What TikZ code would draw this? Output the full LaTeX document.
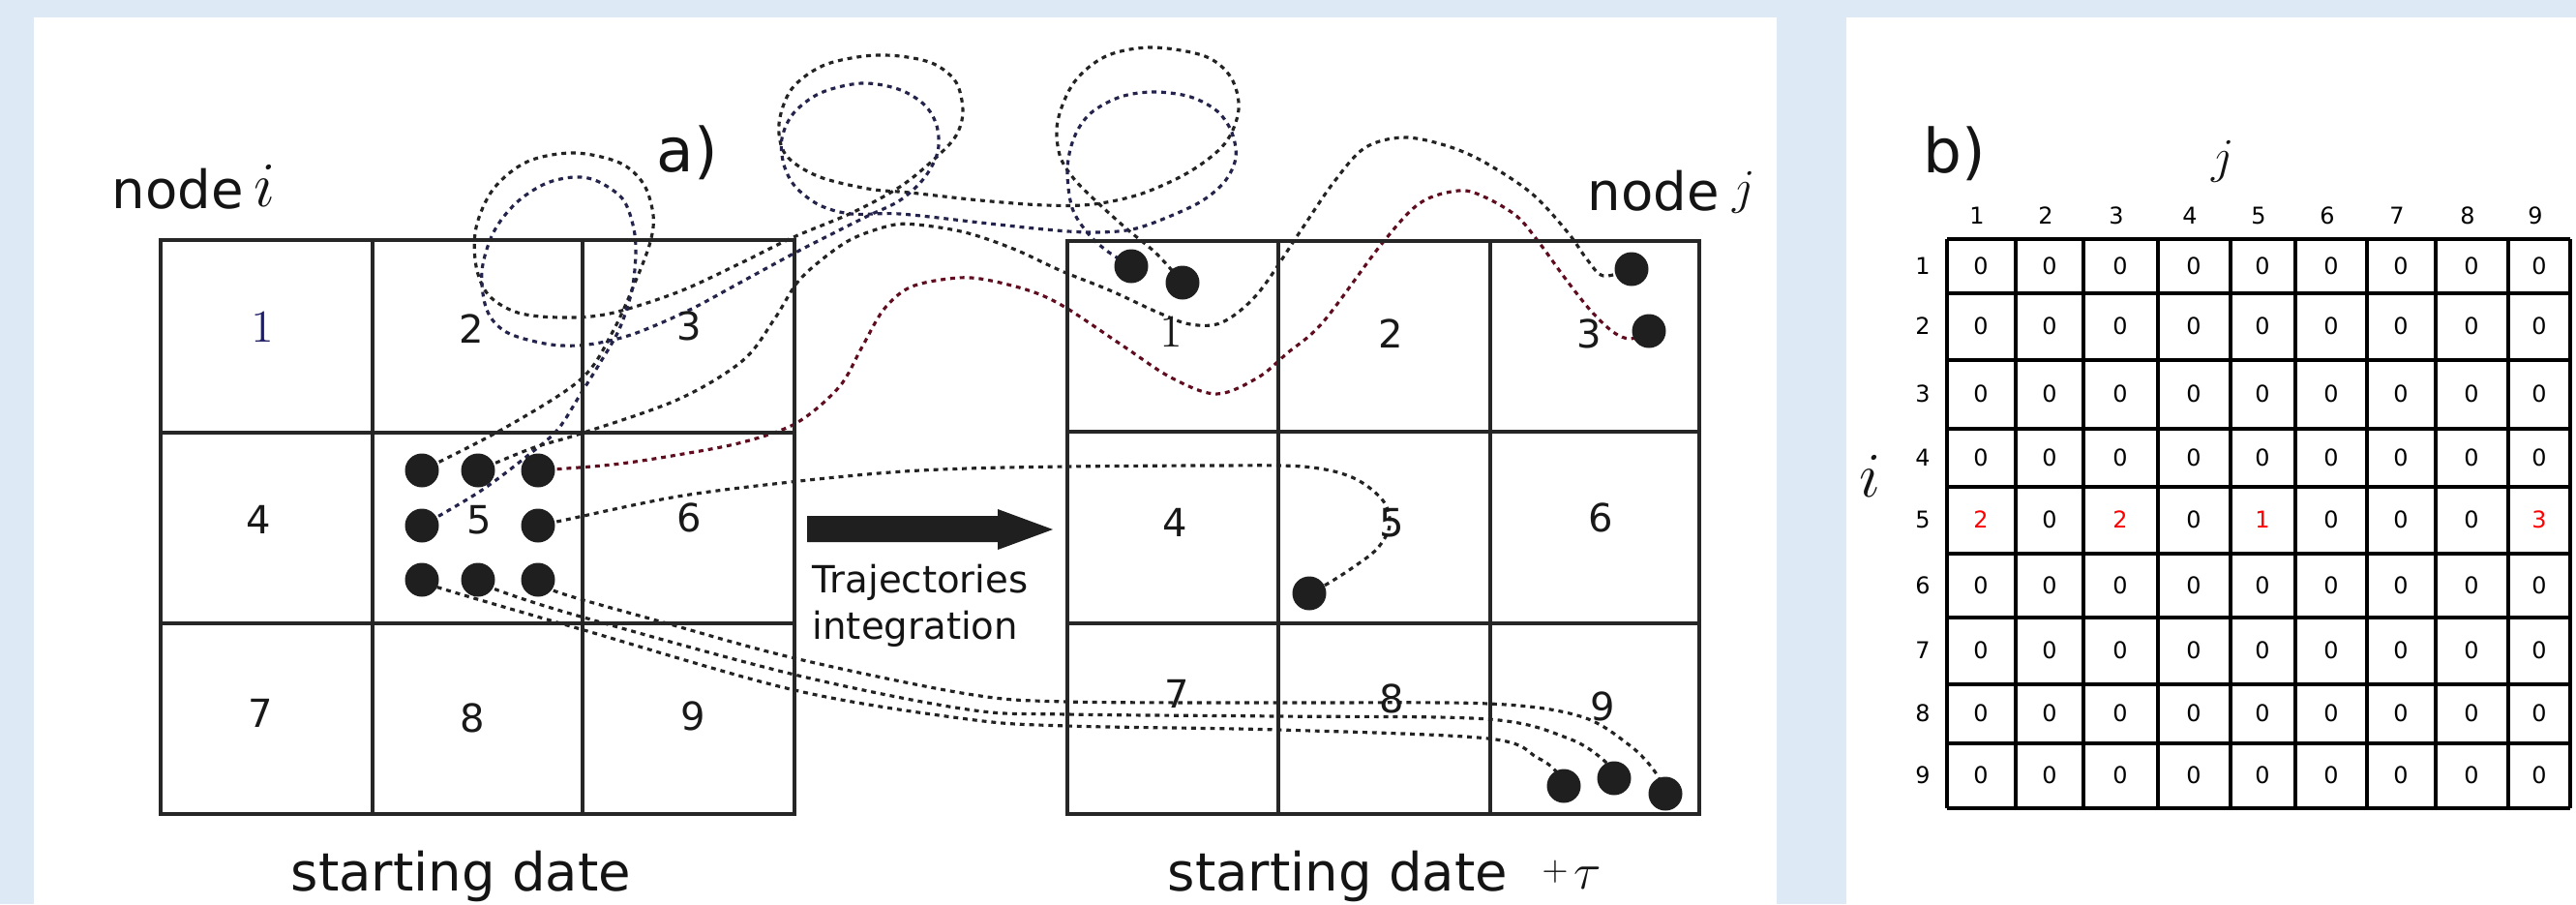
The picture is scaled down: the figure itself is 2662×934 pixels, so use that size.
\RequirePackage{fix-cm}
\documentclass[tikz,border=0pt]{standalone}
\usepackage{fontspec}
\setmainfont{DejaVu Sans}
\pgfdeclarelayer{bg}
\pgfdeclarelayer{traj}
\pgfsetlayers{bg,traj,main}
\definecolor{bgblue}{RGB}{221,233,245}
\definecolor{trajgray}{RGB}{35,35,35}
\definecolor{trajnavy}{RGB}{35,35,75}
\definecolor{trajmaroon}{RGB}{95,12,30}
\definecolor{navynum}{RGB}{30,30,100}
\newcommand{\fsz}[1]{\fontsize{#1}{#1}\selectfont}
\begin{document}
\begin{tikzpicture}[x=0.1mm, y=-0.1mm,
  gridline/.style={line width=1.3pt, draw=black!85},
  mline/.style={line width=1.3pt, draw=black},
  traj/.style={line width=0.9pt, dash pattern=on 1.4pt off 1.4pt, draw=trajgray},
  trajn/.style={traj, draw=trajnavy},
  trajm/.style={traj, draw=trajmaroon},
  dot/.style={circle, fill=black!88, inner sep=0pt, minimum size=3.5mm},
  cnum/.style={font=\fsz{11.4}, inner sep=0pt, text=black!90},
  onenum/.style={font=\fsz{13.5}, inner sep=0pt, text=black!90},
  mnum/.style={font=\fsz{6.8}, inner sep=0pt},
  lbl/.style={inner sep=0pt, text=black!92}
]
\useasboundingbox (0,0) rectangle (2662,934);
\begin{pgfonlayer}{bg}
\fill[bgblue] (0,0) rectangle (2662,934);
\fill[white] (35,18) rectangle (1836,934);
\fill[white] (1908,18) rectangle (2662,934);
\end{pgfonlayer}

% ---------- left grid ----------
\draw[gridline] (166,248) rectangle (821,841);
\foreach \x in {385,602} \draw[gridline] (\x,248) -- (\x,841);
\foreach \y in {447,644} \draw[gridline] (166,\y) -- (821,\y);
\node[onenum, text=navynum] (L1) at (271,338) {$1$};
\node[cnum] (L2) at (487,340) {2};
\node[cnum] (L3) at (712,337) {3};
\node[cnum] (L4) at (267,537) {4};
\node[cnum] (L5) at (495,537) {5};
\node[cnum] (L6) at (712,535) {6};
\node[cnum] (L7) at (269,737) {7};
\node[cnum] (L8) at (488,742) {8};
\node[cnum] (L9) at (716,740) {9};

% ---------- right grid ----------
\draw[gridline] (1103,249) rectangle (1756,841);
\foreach \x in {1321,1540} \draw[gridline] (\x,249) -- (\x,841);
\foreach \y in {446,644} \draw[gridline] (1103,\y) -- (1756,\y);
\node[onenum] (R1) at (1210,343) {$1$};
\node[cnum] (R2) at (1437,345) {2};
\node[cnum] (R3) at (1642,345) {3};
\node[cnum] (R4) at (1214,540) {4};
\node[cnum] (R5) at (1438,540) {5};
\node[cnum] (R6) at (1654,535) {6};
\node[cnum] (R7) at (1216,717) {7};
\node[cnum] (R8) at (1438,722) {8};
\node[cnum] (R9) at (1656,730) {9};

% ---------- dots ----------
\node[dot] (a1) at (436,486) {};
\node[dot] (a2) at (494,486) {};
\node[dot] (a3) at (556,486) {};
\node[dot] (a4) at (436,543) {};
\node[dot] (a6) at (556,543) {};
\node[dot] (a7) at (436,599) {};
\node[dot] (a8) at (494,599) {};
\node[dot] (a9) at (556,599) {};
\node[dot] (b1) at (1169,275) {};
\node[dot] (b2) at (1222,292) {};
\node[dot] (b3) at (1686,278) {};
\node[dot] (b4) at (1704,342) {};
\node[dot] (b5) at (1353,613) {};
\node[dot] (b6) at (1616,812) {};
\node[dot] (b7) at (1668,804) {};
\node[dot] (b8) at (1721,820) {};

% ---------- trajectories ----------
\begin{pgfonlayer}{traj}
\draw[traj] plot[smooth, tension=0.55] coordinates {(a1.center) (520,443) (600,392) (633,343) (657,290) (672,250) (675,222) (665,190) (640,168) (593,158) (545,167) (510,195) (492,235) (492,275) (505,305) (535,323) (580,328) (630,324) (700,302) (763,273) (820,245) (880,220) (930,193) (967,163) (988,140) (995,115) (988,85) (965,66) (930,58) (893,58) (850,68) (818,92) (805,128) (812,160) (845,182) (897,195) (940,199) (1013,207) (1080,212) (1130,211) (1180,200) (1230,177) (1266,148) (1280,113) (1272,80) (1245,58) (1190,49) (1143,58) (1110,85) (1093,125) (1095,160) (1110,185) (1135,210) (1165,237) (1195,262) (b2.center)};
\draw[trajn] plot[smooth, tension=0.55] coordinates {(a4.center) (497,507) (550,467) (577,443) (600,407) (620,375) (640,340) (653,300) (657,260) (654,232) (643,205) (617,187) (593,183) (563,190) (533,210) (510,240) (498,280) (503,320) (523,343) (563,355) (597,357) (630,352) (663,342) (713,320) (763,293) (820,262) (863,240) (897,223) (930,207) (955,184) (969,157) (968,130) (955,108) (928,92) (890,86) (848,96) (820,117) (808,143) (810,170) (822,193) (847,212) (880,221) (930,221) (1013,230) (1080,237) (1127,240) (1170,237) (1210,223) (1243,207) (1266,187) (1277,163) (1273,137) (1258,115) (1230,100) (1193,95) (1158,100) (1127,117) (1110,142) (1103,175) (1108,215) (1125,242) (1145,260) (b1.center)};
\draw[traj] plot[smooth, tension=0.55] coordinates {(a2.center) (550,463) (600,448) (700,413) (767,373) (800,330) (823,293) (847,270) (880,247) (920,233) (947,232) (997,240) (1047,257) (1097,280) (1147,300) (1197,323) (1230,335) (1263,333) (1300,303) (1343,240) (1377,190) (1410,153) (1450,142) (1493,150) (1533,167) (1583,200) (1620,240) (1640,268) (1657,285) (b3.center)};
\draw[trajm] plot[smooth, tension=0.55] coordinates {(a3.center) (633,480) (700,470) (767,457) (823,437) (867,400) (890,360) (913,320) (940,297) (980,288) (1013,288) (1063,300) (1100,317) (1160,357) (1210,390) (1257,407) (1300,390) (1330,365) (1367,333) (1427,253) (1467,210) (1507,197) (1533,203) (1567,223) (1590,250) (1617,287) (1643,320) (1667,343) (1685,350) (b4.center)};
\draw[traj] plot[smooth, tension=0.55] coordinates {(a6.center) (580,538) (700,513) (817,498) (920,488) (1000,484) (1103,482) (1250,481) (1346,482) (1397,493) (1429,517) (1436,543) (1423,567) (1397,587) (1372,603) (b5.center)};
\draw[traj] plot[smooth, tension=0.55] coordinates {(a9.center) (577,612) (682,642) (821,680) (1000,717) (1103,725) (1321,726) (1538,727) (1633,740) (1684,770) (1710,797) (b8.center)};
\draw[traj] plot[smooth, tension=0.55] coordinates {(a8.center) (515,610) (600,637) (821,697) (1000,733) (1103,738) (1321,740) (1538,743) (1621,763) (1659,787) (b7.center)};
\draw[traj] plot[smooth, tension=0.55] coordinates {(a7.center) (453,607) (600,650) (821,713) (1000,743) (1103,750) (1321,754) (1538,763) (1589,783) (1608,797) (b6.center)};
\end{pgfonlayer}

% ---------- big arrow ----------
\coordinate (arrS) at (834,546);
\coordinate (arrE) at (1088,547);
\fill[black!88] (834,533) -- (1031,533) -- (1031,526) -- (arrE) -- (1031,568) -- (1031,560) -- (834,560) -- cycle;
\node[lbl, anchor=base west, font=\fsz{11}] (tr1) at (839,612) {Trajectories};
\node[lbl, anchor=base west, font=\fsz{11}] (tr2) at (839,660) {integration};

% ---------- panel a labels ----------
\node[lbl, anchor=base west, font=\fsz{15.5}] (nodei) at (115,215) {node};
\node[lbl, anchor=base west, font=\fsz{18.7}] (nodeiv) at (262,213) {$i$};
\node[lbl, anchor=base west, font=\fsz{15.5}] (nodej) at (1640,217) {node};
\node[lbl, anchor=base west, font=\fsz{14.4}] (nodejv) at (1790,210) {$j$};
\node[lbl, anchor=base west, font=\fsz{17.9}] (labela) at (678,177) {a)};
\node[lbl, anchor=base west, font=\fsz{15.5}] (sd1) at (300,920) {starting date};
\node[lbl, anchor=base west, font=\fsz{15.5}] (sd2) at (1206,920) {starting date};
\node[lbl, font=\fsz{10}] (plus) at (1607,901) {$+$};
\node[lbl, anchor=base west, font=\fsz{15}] (tau) at (1626,918) {$\tau$};

% ---------- panel b ----------
\node[lbl, anchor=base west, font=\fsz{17.9}] (labelb) at (1987,178) {b)};
\node[lbl, anchor=base, font=\fsz{14.4}] (mj) at (2297,178) {$j$};
\node[lbl, anchor=base, font=\fsz{18.7}] (mi) at (1932,513) {$i$};
\foreach \y in {247,303,372,443,503,572,638,707,768,835} \draw[mline] (2012,\y) -- (2656,\y);
\foreach \x in {2012,2083,2153,2230,2305,2372,2446,2517,2592,2656} \draw[mline] (\x,247) -- (\x,835);
\foreach \c/\xc in {1/2047,2/2118,3/2191,4/2267,5/2338,6/2409,7/2481,8/2554,9/2624}
  \node[mnum] (ch\c) at (\xc-4,223) {\c};
\foreach \r/\yc in {1/275,2/337,3/407,4/473,5/537,6/605,7/672,8/737,9/801}
  \node[mnum] (rh\r) at (1987,\yc) {\r};
\foreach \r/\yc in {1/275,2/337,3/407,4/473,6/605,7/672,8/737,9/801}
  \foreach \c/\xc in {1/2047,2/2118,3/2191,4/2267,5/2338,6/2409,7/2481,8/2554,9/2624}
    \node[mnum] (m\r-\c) at (\xc,\yc) {0};
\foreach \c/\xc/\v/\col in {1/2047/2/red,2/2118/0/black,3/2191/2/red,4/2267/0/black,5/2338/1/red,6/2409/0/black,7/2481/0/black,8/2554/0/black,9/2624/3/red}
  \node[mnum, text=\col] (m5-\c) at (\xc,537) {\v};
\end{tikzpicture}
\end{document}
